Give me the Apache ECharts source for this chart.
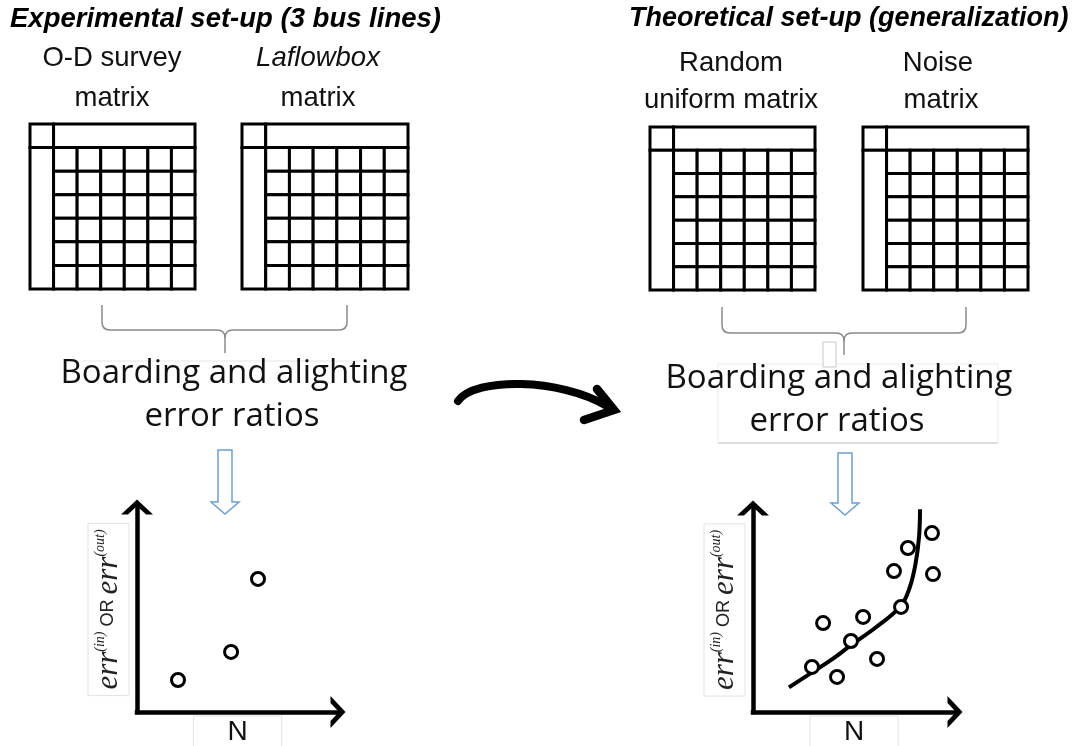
<!DOCTYPE html>
<html><head><meta charset="utf-8">
<script src="https://cdn.jsdelivr.net/npm/echarts@6.0.0/dist/echarts.min.js"></script>
<style>html,body{margin:0;padding:0;background:#fff}#c{width:1075px;height:746px}</style>
</head><body><div id="c"></div><script>
// ---- text content ----
const panelTitles = ['Experimental set-up (3 bus lines)', 'Theoretical set-up (generalization)'];
const matrixLabels = [['O-D survey', 'matrix'], ['Laflowbox', 'matrix'], ['Random', 'uniform matrix'], ['Noise', 'matrix']];
const resultLabel = ['Boarding and alighting', 'error ratios'];
const xAxisName = 'N';
// ---- matrix structure (row/column indices, header blocks as [col0,row0,col1,row1]) ----
const matrixBodyRows = [1, 2, 3, 4, 5, 6];
const matrixBodyCols = [1, 2, 3, 4, 5, 6];
const matrixHeaderBlocks = [[0, 0, 1, 1], [1, 0, 7, 1], [0, 1, 1, 7]];
// ---- experimental scatter (3 bus lines) ----
const expN   = [2.04, 4.68, 6.02];
const expErr = [1.56, 2.93, 6.49];
// ---- theoretical scatter ----
const theoN   = [2.92, 4.16, 3.47, 4.85, 5.45, 6.14, 7.33, 6.98, 7.67, 8.86, 8.91];
const theoErr = [2.21, 1.72, 4.36, 3.48, 4.66, 2.60, 5.15, 6.91, 8.04, 8.77, 6.76];
// ---- fitted curve ----
const fitN   = [1.78, 2.91, 3.98, 4.85, 6.12, 7.31, 7.77, 8.05, 8.22, 8.27];
const fitErr = [1.21, 1.93, 2.63, 3.28, 4.18, 5.20, 6.14, 7.29, 8.59, 9.94];

const matrixRects = matrixHeaderBlocks.slice();
matrixBodyRows.forEach(r => matrixBodyCols.forEach(c => matrixRects.push([c, r, c + 1, r + 1])));

const chart = echarts.init(document.getElementById('c'), null, {renderer: 'canvas'});

const matrixGrids = [
  {left: 30, top: 124, width: 165, height: 165},
  {left: 242, top: 124, width: 166, height: 165},
  {left: 650, top: 127, width: 165, height: 163},
  {left: 863, top: 127, width: 165, height: 163}
];
const plotGrids = [
  {left: 137, top: 507, width: 201, height: 205},
  {left: 753, top: 508, width: 202, height: 204}
];
const grids = matrixGrids.concat(plotGrids).map(g => Object.assign({outerBoundsMode: 'none', containLabel: false}, g));

const chevron = 'path://M0,15 L16,0 L32,15 L25,15 L16,6.6 L7,15 Z';
const xAxes = [], yAxes = [], series = [];
matrixGrids.forEach((g, i) => {
  xAxes.push({gridIndex: i, type: 'value', min: 0, max: 7, show: false});
  yAxes.push({gridIndex: i, type: 'value', min: 0, max: 7, inverse: true, show: false});
  series.push({
    type: 'custom', xAxisIndex: i, yAxisIndex: i, clip: false,
    data: matrixRects,
    renderItem: function (params, api) {
      const p0 = api.coord([api.value(0), api.value(1)]);
      const p1 = api.coord([api.value(2), api.value(3)]);
      return {type: 'rect',
        shape: {x: Math.min(p0[0], p1[0]), y: Math.min(p0[1], p1[1]), width: Math.abs(p1[0] - p0[0]), height: Math.abs(p1[1] - p0[1])},
        style: {fill: '#fff', stroke: '#000', lineWidth: 3}};
    }
  });
});

const yName = '{e|err}{s|(in)}{o| OR }{e|err}{s|(out)}';
const yRich = {
  e: {fontSize: 31, fontFamily: 'Liberation Serif', fontStyle: 'italic', color: '#222'},
  s: {fontSize: 14, fontFamily: 'Liberation Serif', fontStyle: 'italic', color: '#222', verticalAlign: 'top'},
  o: {fontSize: 18, fontFamily: 'Liberation Sans', color: '#222'}
};
plotGrids.forEach((g, k) => {
  const gi = 4 + k;
  const axisLine = {show: true, onZero: false, symbol: ['none', chevron], symbolSize: [32, 15],
    lineStyle: {color: '#000', width: 4.5, cap: 'square'}};
  xAxes.push({gridIndex: gi, type: 'value', min: 0, max: 10, axisLine: axisLine,
    axisTick: {show: false}, axisLabel: {show: false}, splitLine: {show: false},
    name: xAxisName, nameLocation: 'middle', nameGap: 4,
    nameTextStyle: {fontSize: 28, fontFamily: 'Liberation Sans', color: '#111', verticalAlign: 'top',
      borderColor: '#e2e2e2', borderWidth: 1, padding: [2, 34, 6, 34]}});
  yAxes.push({gridIndex: gi, type: 'value', min: 0, max: 10, axisLine: axisLine,
    axisTick: {show: false}, axisLabel: {show: false}, splitLine: {show: false},
    name: yName, nameLocation: 'middle', nameGap: 8, nameRotate: 90,
    nameTextStyle: {rich: yRich, borderColor: '#e2e2e2', borderWidth: 1, padding: [5, 6, 5, 6]}});
});

series.push({type: 'scatter', xAxisIndex: 4, yAxisIndex: 4, symbol: 'circle', symbolSize: 13,
  itemStyle: {color: '#fff', borderColor: '#000', borderWidth: 3, opacity: 1},
  data: expN.map((v, i) => [v, expErr[i]]), z: 5});
series.push({type: 'line', xAxisIndex: 5, yAxisIndex: 5, smooth: 0.4, showSymbol: false,
  lineStyle: {color: '#000', width: 4}, data: fitN.map((v, i) => [v, fitErr[i]]), z: 3});
series.push({type: 'scatter', xAxisIndex: 5, yAxisIndex: 5, symbol: 'circle', symbolSize: 13,
  itemStyle: {color: '#fff', borderColor: '#000', borderWidth: 3, opacity: 1},
  data: theoN.map((v, i) => [v, theoErr[i]]), z: 5});

function txt(x, y, text, size, family, extra) {
  return {type: 'text', x: x, y: y, z: 10,
    style: Object.assign({text: text, fontSize: size, fontFamily: family, fill: '#111',
      align: 'center', verticalAlign: 'middle'}, extra || {})};
}
function seg(x1, y1, x2, y2, color, w) {
  return {type: 'line', shape: {x1: x1, y1: y1, x2: x2, y2: y2}, style: {stroke: color, lineWidth: w}};
}
function qc(x1, y1, cx, cy, x2, y2, color, w) {
  return {type: 'bezierCurve', shape: {x1: x1, y1: y1, cpx1: cx, cpy1: cy, x2: x2, y2: y2},
    style: {fill: 'none', stroke: color, lineWidth: w}};
}
function brace(xl, xr, xm, yTop, yH, yBot) {
  const c = '#8a8a8a', w = 1.5;
  return [
    seg(xl, yTop, xl, yH - 8, c, w), qc(xl, yH - 8, xl, yH, xl + 8, yH, c, w),
    seg(xl + 8, yH, xm - 8, yH, c, w), qc(xm - 8, yH, xm, yH, xm, yH + 8, c, w),
    seg(xm, yH + 8, xm, yBot, c, w), qc(xm, yH + 8, xm, yH, xm + 8, yH, c, w),
    seg(xm + 8, yH, xr - 8, yH, c, w), qc(xr - 8, yH, xr, yH, xr, yH - 8, c, w),
    seg(xr, yH - 8, xr, yTop, c, w)
  ];
}
const sansL = 'Liberation Sans';
const openS = 'Open Sans';
let graphic = [
  txt(10, 19, panelTitles[0], 27.5, sansL, {align: 'left', fontWeight: 'bold', fontStyle: 'italic', fill: '#000'}),
  txt(629, 19, panelTitles[1], 27, sansL, {align: 'left', fontWeight: 'bold', fontStyle: 'italic', fill: '#000'}),
  txt(112, 58, matrixLabels[0][0], 27.5, sansL),
  txt(112, 98, matrixLabels[0][1], 27.5, sansL),
  txt(318, 58, matrixLabels[1][0], 27.5, sansL, {fontStyle: 'italic'}),
  txt(318, 98, matrixLabels[1][1], 27.5, sansL),
  txt(731, 63, matrixLabels[2][0], 27.5, sansL),
  txt(731, 100, matrixLabels[2][1], 27.5, sansL),
  txt(938, 63, matrixLabels[3][0], 27.5, sansL),
  txt(941, 100, matrixLabels[3][1], 27.5, sansL),
  // faint text-box borders
  seg(83, 361, 360, 361, '#e6e6e6', 1),
  {type: 'rect', shape: {x: 718, y: 364, width: 280, height: 79}, style: {fill: 'none', stroke: '#ececec', lineWidth: 1}},
  seg(718, 443, 998, 443, '#c8c8c8', 1.2),
  {type: 'rect', shape: {x: 823, y: 342, width: 13, height: 25}, style: {fill: '#fff', stroke: '#c8c8c8', lineWidth: 1}},
  txt(234, 374, resultLabel[0], 33, openS),
  txt(232, 417, resultLabel[1], 33, openS),
  txt(839, 379, resultLabel[0], 33, openS),
  txt(837, 422, resultLabel[1], 33, openS),
  // curved black arrow
  {type: 'bezierCurve', shape: {x1: 458, y1: 401, cpx1: 475, cpy1: 377, cpx2: 560, cpy2: 378, x2: 607, y2: 406},
    style: {fill: 'none', stroke: '#000', lineWidth: 8, lineCap: 'round'}},
  {type: 'polyline', shape: {points: [[597, 389], [614, 410], [584, 420]]},
    style: {fill: 'none', stroke: '#000', lineWidth: 8.5, lineJoin: 'miter', lineCap: 'round'}},
  // hollow blue arrows
  {type: 'polygon', shape: {points: [[218, 450], [232, 450], [232, 502], [239, 502], [225, 514], [211, 502], [218, 502]]},
    style: {fill: '#fff', stroke: '#6b9fd6', lineWidth: 1.5}},
  {type: 'polygon', shape: {points: [[838, 453], [852, 453], [852, 503], [859, 503], [845, 515], [831, 503], [838, 503]]},
    style: {fill: '#fff', stroke: '#6b9fd6', lineWidth: 1.5}}
];
graphic = graphic.concat(brace(102, 347, 225, 305, 330, 353), brace(722, 966, 844, 307, 333, 355));

chart.setOption({
  backgroundColor: '#fff',
  animation: false,
  grid: grids,
  xAxis: xAxes,
  yAxis: yAxes,
  series: series,
  graphic: graphic
});
</script></body></html>
